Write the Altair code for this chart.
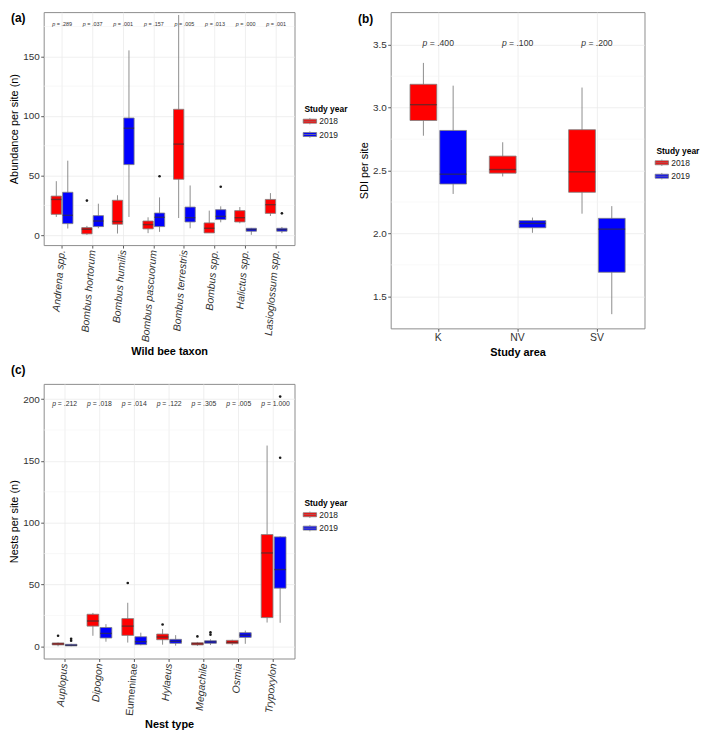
import altair as alt
import pandas as pd

FONT = "Liberation Sans"
YEARS = ["2018", "2019"]
YEAR_COLORS = ["#FF0000", "#0000FF"]

# ---------------- panel (a): wild bee abundance ----------------
taxa = ["Andrena spp.", "Bombus hortorum", "Bombus humilis", "Bombus pascuorum",
        "Bombus terrestris", "Bombus spp.", "Halictus spp.", "Lasioglossum spp."]
a18_lo = [15.3, 0.3, 1.4, 1.7, 14.4, 1.9, 10.0, 16.1]
a18_q1 = [17.5, 1.1, 9.2, 5.3, 46.9, 1.9, 11.1, 18.3]
a18_med = [30.0, 5.0, 11.5, 8.9, 76.4, 5.8, 14.7, 25.6]
a18_q3 = [32.8, 6.4, 29.3, 11.9, 105.6, 10.3, 20.6, 30.0]
a18_hi = [45.3, 7.8, 33.5, 15.0, 184.7, 20.6, 23.6, 35.3]
a19_lo = [5.6, 5.8, 15.3, 2.8, 5.8, 10.8, 0.3, 1.7]
a19_q1 = [9.7, 7.2, 59.2, 7.2, 11.1, 13.1, 3.3, 3.3]
a19_med = [16.7, 11.9, 89.7, 15.0, 14.7, 15.8, 4.7, 4.7]
a19_q3 = [36.0, 16.4, 98.3, 18.6, 23.6, 21.4, 5.8, 5.8]
a19_hi = [62.5, 26.4, 155.0, 31.7, 41.7, 24.2, 6.1, 6.9]
a_out_taxon = ["Bombus hortorum", "Bombus pascuorum", "Bombus spp.", "Lasioglossum spp."]
a_out_year = ["2018", "2019", "2019", "2019"]
a_out_value = [29.0, 49.4, 40.6, 18.3]
a_p = [".289", ".037", ".001", ".157", ".005", ".013", ".000", ".001"]

# ---------------- panel (b): SDI per study area ----------------
areas = ["K", "NV", "SV"]
b18_lo = [2.777, 2.453, 2.157]
b18_q1 = [2.898, 2.479, 2.327]
b18_med = [3.024, 2.508, 2.490]
b18_q3 = [3.186, 2.615, 2.825]
b18_hi = [3.356, 2.725, 3.160]
b19_lo = [2.314, 2.005, 1.358]
b19_q1 = [2.393, 2.045, 1.691]
b19_med = [2.471, 2.079, 2.034]
b19_q3 = [2.819, 2.102, 2.120]
b19_hi = [3.175, 2.126, 2.217]
b_p = [".400", ".100", ".200"]

# ---------------- panel (c): nests per site ----------------
nests = ["Auplopus", "Dipogon", "Eumeninae", "Hylaeus", "Megachile", "Osmia", "Trypoxylon"]
c18_lo = [0.0, 8.5, 3.0, 1.3, 0.3, 0.8, 19.2]
c18_q1 = [1.1, 16.3, 8.8, 5.3, 1.1, 2.1, 23.2]
c18_med = [1.9, 20.5, 16.3, 7.5, 2.0, 3.2, 75.5]
c18_q3 = [2.7, 25.9, 22.4, 9.9, 2.9, 4.8, 90.4]
c18_hi = [3.0, 27.0, 35.2, 13.9, 3.5, 5.3, 162.4]
c19_lo = [0.0, 3.7, 0.8, 0.5, 1.0, 2.0, 19.0]
c19_q1 = [0.3, 6.7, 1.3, 2.4, 2.4, 7.2, 47.0]
c19_med = [0.8, 10.4, 3.7, 4.0, 3.5, 9.0, 62.1]
c19_q3 = [1.6, 15.2, 7.7, 5.6, 4.5, 11.0, 88.5]
c19_hi = [2.0, 17.9, 11.0, 9.0, 5.6, 12.7, 89.0]
c_out_nest = ["Auplopus", "Auplopus", "Auplopus", "Eumeninae", "Hylaeus",
              "Megachile", "Megachile", "Megachile", "Trypoxylon", "Trypoxylon"]
c_out_year = ["2018", "2019", "2019", "2018", "2018", "2018", "2019", "2019", "2019", "2019"]
c_out_value = [8.5, 6.0, 4.5, 51.2, 17.6, 8.0, 11.2, 9.4, 152.5, 202.0]
c_p = [".212", ".018", ".014", ".122", ".305", ".005", "1.000"]


def stats_frame(field, cats, s18, s19):
    rows = []
    for year, s in zip(YEARS, (s18, s19)):
        for i, c in enumerate(cats):
            rows.append({field: c, "year": year, "lo": s[0][i], "q1": s[1][i],
                         "med": s[2][i], "q3": s[3][i], "hi": s[4][i]})
    return pd.DataFrame(rows)


def panel(tag, field, cats, stats, outliers, pvals, p_y, p_font, p_dx,
          ydom, yticks, yminor, yfmt, width, height, xtitle, ytitle,
          box_w, x_angle, x_style, x_font, legend_xy, tag_xy):
    xscale = alt.Scale(domain=cats, paddingInner=0.25, paddingOuter=0.225)
    xaxis = alt.Axis(title=xtitle, labelAngle=x_angle, labelFontStyle=x_style,
                     labelFontSize=x_font, bandPosition=0.5, grid=True,
                     titleFontWeight="bold")
    x = alt.X(f"{field}:N", scale=xscale, axis=xaxis, sort=cats)
    xo = alt.XOffset("year:N", scale=alt.Scale(domain=YEARS, paddingInner=0.1,
                                               paddingOuter=0.05))
    yscale = alt.Scale(domain=ydom, nice=False, zero=False)
    yaxis = alt.Axis(title=ytitle, values=yticks, format=yfmt, grid=True)

    def Y(f):
        return alt.Y(f"{f}:Q", scale=yscale, axis=yaxis)

    minor = alt.Chart(pd.DataFrame({"minor": yminor})).mark_rule(
        color="#f3f3f3", strokeWidth=0.6).encode(y=Y("minor"))
    whisk = alt.Chart(stats).mark_rule(color="#808080", strokeWidth=0.9).encode(
        x=x, xOffset=xo, y=Y("lo"), y2="hi:Q")
    legend = alt.Legend(title="Study year", orient="none",
                        legendX=legend_xy[0], legendY=legend_xy[1],
                        titleFontSize=8.5, labelFontSize=8.5, titleFontWeight="bold",
                        titleFont=FONT, labelFont=FONT, titleColor="#000000",
                        labelColor="#222222", titlePadding=2, rowPadding=2.5,
                        labelOffset=4,
                        symbolType="M0,-0.65V-0.4M-1.35,-0.4H1.35V0.4H-1.35ZM0,0.4V0.65M-1.35,0H1.35",
                        symbolSize=100, symbolStrokeColor="#808080",
                        symbolStrokeWidth=0.8)
    box = alt.Chart(stats).mark_bar(stroke="#808080", strokeWidth=0.8, opacity=1).encode(
        x=x, xOffset=xo, y=Y("q1"), y2="q3:Q",
        color=alt.Color("year:N", scale=alt.Scale(domain=YEARS, range=YEAR_COLORS),
                        legend=legend))
    med = alt.Chart(stats).mark_tick(color="#333333", opacity=0.65, thickness=1.4,
                                     size=box_w, orient="horizontal").encode(
        x=x, xOffset=xo, y=Y("med"))
    outs = alt.Chart(outliers).mark_circle(color="#1a1a1a", size=7, opacity=1).encode(
        x=x, xOffset=xo, y=Y("value"))
    pdf = pd.DataFrame({field: cats, "rest": ["= " + p for p in pvals]})
    p1 = alt.Chart(pdf).mark_text(text="p", fontStyle="italic", align="right",
                                  baseline="middle", dx=p_dx[0], fontSize=p_font,
                                  color="#333333", font=FONT).encode(
        x=x, y=alt.YDatum(p_y, type="quantitative", scale=yscale, axis=yaxis))
    p2 = alt.Chart(pdf).mark_text(align="left", baseline="middle", dx=p_dx[1],
                                  fontSize=p_font, color="#333333", font=FONT).encode(
        x=x, y=alt.YDatum(p_y, type="quantitative", scale=yscale, axis=yaxis),
        text="rest:N")
    tagc = alt.Chart(pd.DataFrame({"tag": [tag]})).mark_text(
        align="left", baseline="middle", fontWeight="bold", fontSize=12,
        font=FONT, color="#000000").encode(
        text="tag:N", x=alt.value(tag_xy[0]), y=alt.value(tag_xy[1]))
    return alt.layer(minor, whisk, box, med, outs, p1, p2, tagc).properties(
        width=width, height=height)


stats_a = stats_frame("taxon", taxa, (a18_lo, a18_q1, a18_med, a18_q3, a18_hi),
                      (a19_lo, a19_q1, a19_med, a19_q3, a19_hi))
out_a = pd.DataFrame({"taxon": a_out_taxon, "year": a_out_year, "value": a_out_value})
stats_b = stats_frame("area", areas, (b18_lo, b18_q1, b18_med, b18_q3, b18_hi),
                      (b19_lo, b19_q1, b19_med, b19_q3, b19_hi))
out_b = pd.DataFrame({"area": [], "year": [], "value": []})
stats_c = stats_frame("nest", nests, (c18_lo, c18_q1, c18_med, c18_q3, c18_hi),
                      (c19_lo, c19_q1, c19_med, c19_q3, c19_hi))
out_c = pd.DataFrame({"nest": c_out_nest, "year": c_out_year, "value": c_out_value})

pa = panel("(a)", "taxon", taxa, stats_a, out_a, a_p, 177.0, 5.5, (-6.9, -5.4),
           [-8.3, 187.1], [0, 50, 100, 150], [25, 75, 125, 175], "d",
           253, 235, "Wild bee taxon", "Abundance per site (n)", 10.4,
           275, "italic", 10.5, (263, 94), (-33, 6))
pb = panel("(b)", "area", areas, stats_b, out_b, b_p, 3.516, 8.7, (-11.0, -8.6),
           [1.245, 3.76], [1.5, 2.0, 2.5, 3.0, 3.5], [1.75, 2.25, 2.75, 3.25], ".1f",
           256, 319, "Study area", "SDI per site", 27.0,
           0, "normal", 10.5, (268, 136), (-33, 7))
pc = panel("(c)", "nest", nests, stats_c, out_c, c_p, 196.4, 6.9, (-8.7, -6.8),
           [-9.9, 212.3], [0, 50, 100, 150, 200], [25, 75, 125, 175], "d",
           253, 277, "Nest type", "Nests per site (n)", 11.9,
           275, {"condition": {"test": "datum.value === 'Eumeninae'", "value": "normal"},
                 "value": "italic"}, 10.5, (263, 116), (-33, -14))

top = alt.hconcat(pa, pb, spacing=8).resolve_scale(
    color="independent", xOffset="independent").resolve_legend(color="independent")
chart = alt.vconcat(top, pc, spacing=5).resolve_scale(
    color="independent", xOffset="independent").resolve_legend(color="independent")

chart = chart.properties(padding=0, background="white").configure_axis(
    labelFont=FONT, titleFont=FONT, labelFontSize=10, titleFontSize=11,
    labelColor="#333333", titleColor="#000000", tickColor="#333333",
    tickSize=3, tickWidth=0.8, domain=False, gridColor="#ebebeb", gridWidth=0.8,
    labelPadding=1.5, titlePadding=3
).configure_axisY(titleFontWeight="normal").configure_view(
    stroke="#8c8c8c", strokeWidth=1)

chart.save("out.html", embed_options={"renderer": "svg", "actions": False})
